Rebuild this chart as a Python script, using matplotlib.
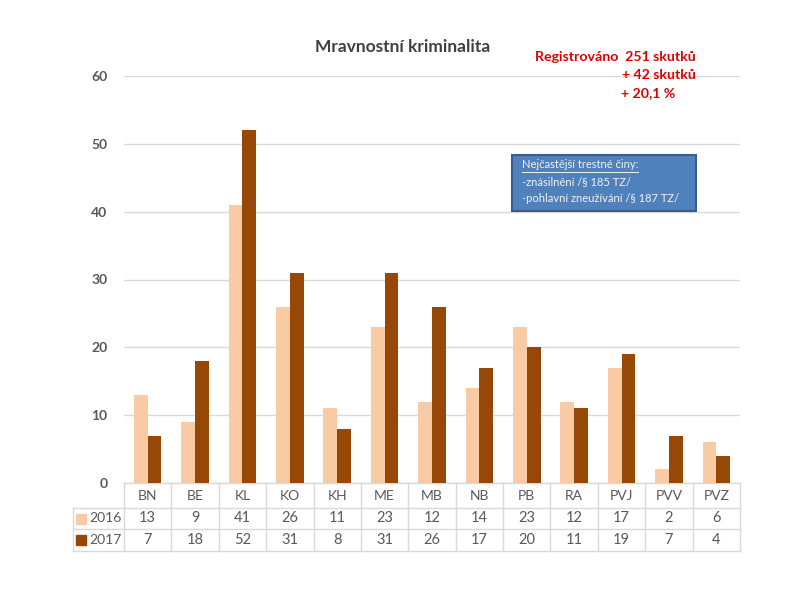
import matplotlib
matplotlib.use("Agg")
import matplotlib.pyplot as plt
from matplotlib.patches import Rectangle
import numpy as np

categories = ["BN", "BE", "KL", "KO", "KH", "ME", "MB", "NB", "PB", "RA", "PVJ", "PVV", "PVZ"]
years = ["2016", "2017"]
values_2016 = [13, 9, 41, 26, 11, 23, 12, 14, 23, 12, 17, 2, 6]
values_2017 = [7, 18, 52, 31, 8, 31, 26, 17, 20, 11, 19, 7, 4]
yticks = [0, 10, 20, 30, 40, 50, 60]

c16 = "#F9CBA5"
c17 = "#974806"
grid_c = "#D9D9D9"
txt_c = "#595959"

plt.rcParams['font.family'] = ['Lato', 'DejaVu Sans']

fig = plt.figure(figsize=(8, 6), dpi=100)
L, R, B, T = 124, 740, 483, 76
ax = fig.add_axes([L / 800, 1 - B / 600, (R - L) / 800, (B - T) / 600])

n = len(categories)
x = np.arange(n)
w = 0.29
ax.bar(x - w / 2, values_2016, w, color=c16, zorder=3)
ax.bar(x + w / 2, values_2017, w, color=c17, zorder=3)

ax.set_xlim(-0.5, n - 0.5)
ax.set_ylim(0, 60)
ax.set_yticks(yticks)
ax.set_yticklabels([str(t) for t in yticks], fontsize=10, fontweight='bold', color=txt_c)
ax.tick_params(axis='y', length=0, pad=12)
ax.set_xticks([])
ax.yaxis.grid(True, color=grid_c, linewidth=1, zorder=0)
for s in ax.spines.values():
    s.set_visible(False)

# helpers: pixel -> data
pxu = (R - L) / n
def px2x(px):
    return (px - L) / pxu - 0.5
upy = 60 / (B - T)
def py2y(py):
    return -(py - B) * upy

# table
rows_px = [483, 508, 529, 551]
kw = dict(color=grid_c, linewidth=1, clip_on=False, zorder=1)
ax.plot([-0.5, n - 0.5], [0, 0], **kw)
for rp in rows_px[1:]:
    ax.plot([px2x(73), n - 0.5], [py2y(rp), py2y(rp)], **kw)
for k in range(n + 1):
    ax.plot([k - 0.5, k - 0.5], [0, py2y(551)], **kw)
ax.plot([px2x(73), px2x(73)], [py2y(508), py2y(551)], **kw)

ymid = [py2y((rows_px[i] + rows_px[i + 1]) / 2) for i in range(3)]
for i, c in enumerate(categories):
    ax.text(i, ymid[0], c, ha='center', va='center', fontsize=10, color=txt_c, clip_on=False)
    ax.text(i, ymid[1], str(values_2016[i]), ha='center', va='center', fontsize=10.5, color=txt_c, clip_on=False)
    ax.text(i, ymid[2], str(values_2017[i]), ha='center', va='center', fontsize=10.5, color=txt_c, clip_on=False)

for j, (yr, col) in enumerate(zip(years, [c16, c17])):
    ym = ymid[j + 1]
    h = 10 * upy
    ax.add_patch(Rectangle((px2x(76), ym - h / 2), px2x(86) - px2x(76), h, color=col, clip_on=False))
    ax.text(px2x(89), ym, yr, ha='left', va='center', fontsize=10, color=txt_c, clip_on=False)

# title
fig.text(403 / 800, 1 - 47 / 600, "Mravnostní kriminalita", ha='center', va='center',
         fontsize=12.5, fontweight='bold', color="#404040")

red = "#E00000"
fig.text(696 / 800, 1 - 57 / 600, "Registrováno  251 skutků", ha='right', va='center',
         fontsize=10.2, fontweight='bold', color=red)
fig.text(696 / 800, 1 - 75 / 600, "+ 42 skutků", ha='right', va='center',
         fontsize=10.2, fontweight='bold', color=red)
fig.text(621 / 800, 1 - 93 / 600, "+ 20,1 %", ha='left', va='center',
         fontsize=10.2, fontweight='bold', color=red)

# blue box
bx0, by0, bx1, by1 = 512, 155, 696, 211
fig.patches.append(Rectangle((bx0 / 800, 1 - by1 / 600), (bx1 - bx0) / 800, (by1 - by0) / 600,
                             transform=fig.transFigure, facecolor="#4F81BD", edgecolor="#385D8A",
                             linewidth=1.5, zorder=5))
box_c = "#F2F2F2"
t1 = fig.text(522 / 800, 1 - 165 / 600, "Nejčastější trestné činy:", ha='left', va='center',
              fontsize=8, color=box_c, zorder=6)
fig.text(522 / 800, 1 - 182 / 600, "-znásilnění /§ 185 TZ/", ha='left', va='center',
         fontsize=8, color=box_c, zorder=6)
fig.text(522 / 800, 1 - 199 / 600, "-pohlavní zneužívání /§ 187 TZ/", ha='left', va='center',
         fontsize=8, color=box_c, zorder=6)
fig.canvas.draw()
bb = t1.get_window_extent(renderer=fig.canvas.get_renderer())
fig.add_artist(plt.Line2D([bb.x0 / 800, bb.x1 / 800], [1 - 172 / 600, 1 - 172 / 600],
                          transform=fig.transFigure, color=box_c, linewidth=0.7, zorder=6))

fig.savefig("out.png", dpi=100, facecolor='white')
